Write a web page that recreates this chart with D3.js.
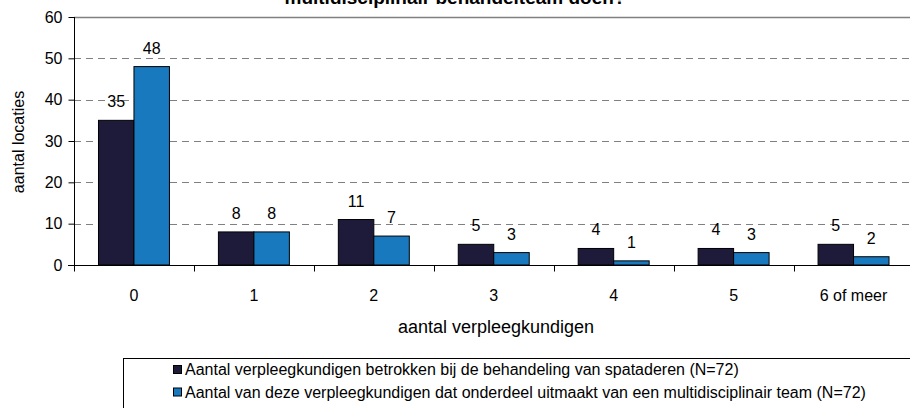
<!DOCTYPE html>
<html>
<head>
<meta charset="utf-8">
<script src="https://cdn.jsdelivr.net/npm/d3@7"></script>
<style>
  body { margin: 0; background: #fff; }
  svg { display: block; font-family: "Liberation Sans", Arial, sans-serif; }
</style>
</head>
<body>
<svg id="chart" width="910" height="408"></svg>
<script>
const categories = ["0", "1", "2", "3", "4", "5", "6 of meer"];
const seriesNames = [
  "Aantal verpleegkundigen betrokken bij de behandeling van spataderen (N=72)",
  "Aantal van deze verpleegkundigen dat onderdeel uitmaakt van een multidisciplinair team (N=72)"
];
const betrokken = [35, 8, 11, 5, 4, 4, 5];
const multidisciplinair = [48, 8, 7, 3, 1, 3, 2];
const yTicks = [0, 10, 20, 30, 40, 50, 60];
const colors = ["#1E1B3A", "#1879BF"];
const titleText = "multidisciplinair behandelteam doen?";
const xTitle = "aantal verpleegkundigen";
const yTitle = "aantal locaties";

const series = [betrokken, multidisciplinair];
const svg = d3.select("#chart");

const pLeft = 74, pRight = 913.5, pTop = 17, pBottom = 265;

const x0 = d3.scaleBand().domain(categories).range([pLeft, pRight]).paddingInner(0).paddingOuter(0);
const x1 = d3.scaleBand().domain([0, 1]).range([0, x0.bandwidth()]).paddingInner(0).paddingOuter(0.69);
const y = d3.scaleLinear().domain([0, 60]).range([pBottom, pTop]);

// title (cut off at top)
svg.append("text")
  .attr("x", 455).attr("y", 4)
  .attr("text-anchor", "middle")
  .attr("font-weight", "bold")
  .attr("font-size", 19)
  .attr("fill", "#000")
  .text(titleText);

// gridlines
svg.append("g").selectAll("line")
  .data(yTicks.filter(d => d > 0))
  .join("line")
  .attr("x1", pLeft).attr("x2", 910)
  .attr("y1", d => Math.round(y(d)) + 0.5).attr("y2", d => Math.round(y(d)) + 0.5)
  .attr("stroke", "#808080")
  .attr("stroke-width", d => d === 60 ? 1.5 : 1.2)
  .attr("stroke-dasharray", d => d === 60 ? null : "7,5");

// bars
const groups = svg.append("g").selectAll("g")
  .data(categories)
  .join("g")
  .attr("transform", d => `translate(${x0(d)},0)`);

groups.selectAll("rect")
  .data((d, i) => series.map((s, k) => ({k, v: s[i]})))
  .join("rect")
  .attr("x", d => x1(d.k))
  .attr("y", d => y(d.v))
  .attr("width", x1.bandwidth())
  .attr("height", d => y(0) - y(d.v))
  .attr("fill", d => colors[d.k])
  .attr("stroke", "#000")
  .attr("stroke-width", 1);

// data labels
groups.selectAll("text")
  .data((d, i) => series.map((s, k) => ({k, v: s[i]})))
  .join("text")
  .attr("x", d => x1(d.k) + x1.bandwidth() / 2)
  .attr("y", d => y(d.v) - 13)
  .attr("text-anchor", "middle")
  .attr("font-size", 16)
  .attr("fill", "#000")
  .text(d => d.v);

// y axis
const yAxis = d3.axisLeft(y).tickValues(yTicks).tickSize(6).tickPadding(6).tickFormat(d3.format("d"));
const gy = svg.append("g").attr("transform", `translate(${pLeft + 0.5},0)`).call(yAxis);
gy.select(".domain").attr("stroke", "#000").attr("d", `M0,${pTop}V${pBottom}`);
gy.selectAll(".tick line").attr("stroke", "#000");
gy.selectAll(".tick text").attr("font-size", 16).attr("font-family", "Liberation Sans, Arial, sans-serif").attr("fill", "#000");

// x axis
const boundaries = categories.map(c => x0(c)).concat([pRight]);
const gx = svg.append("g").attr("transform", `translate(0,${pBottom + 0.5})`);
gx.append("line").attr("x1", pLeft - 6).attr("x2", 910).attr("stroke", "#000");
gx.selectAll("line.tk").data(boundaries).join("line").attr("class", "tk")
  .attr("x1", d => Math.round(d) + 0.5).attr("x2", d => Math.round(d) + 0.5)
  .attr("y1", 0).attr("y2", 6).attr("stroke", "#000");
gx.selectAll("text").data(categories).join("text")
  .attr("x", d => x0(d) + x0.bandwidth() / 2)
  .attr("y", 300 - pBottom)
  .attr("text-anchor", "middle")
  .attr("font-size", 16)
  .attr("fill", "#000")
  .text(d => d);

// axis titles
svg.append("text")
  .attr("x", 496).attr("y", 333)
  .attr("text-anchor", "middle")
  .attr("font-size", 18)
  .attr("fill", "#000")
  .text(xTitle);

svg.append("text")
  .attr("transform", "translate(24,142) rotate(-90)")
  .attr("text-anchor", "middle")
  .attr("font-size", 16)
  .attr("fill", "#000")
  .text(yTitle);

// legend
svg.append("rect")
  .attr("x", 123.5).attr("y", 358.5)
  .attr("width", 800).attr("height", 80)
  .attr("fill", "none").attr("stroke", "#000").attr("stroke-width", 1);

const lg = svg.append("g").selectAll("g").data(seriesNames).join("g")
  .attr("transform", (d, i) => `translate(0,${i * 22.5})`);
lg.append("rect")
  .attr("x", 173.5).attr("y", 365.5)
  .attr("width", 8).attr("height", 8)
  .attr("fill", (d, i) => colors[i])
  .attr("stroke", "#000");
lg.append("text")
  .attr("x", 185).attr("y", 375)
  .attr("font-size", 16)
  .attr("fill", "#000")
  .text(d => d);
</script>
</body>
</html>
